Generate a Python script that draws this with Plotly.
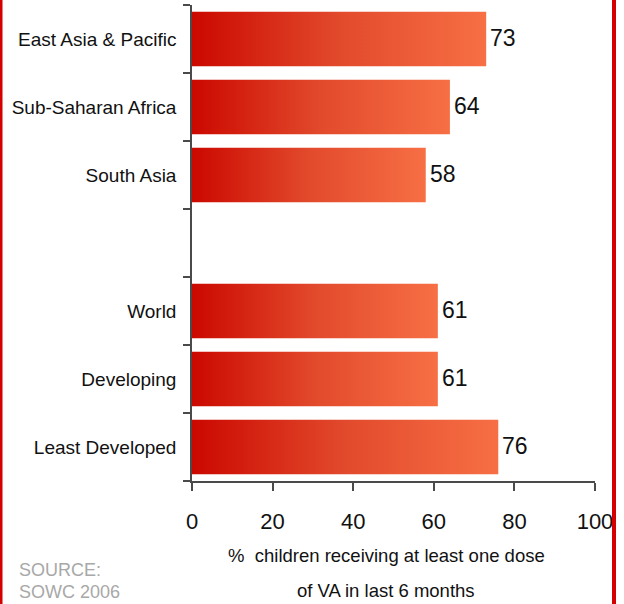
import plotly.graph_objects as go

# Vitamin A supplementation coverage, by region
categories = ["East Asia & Pacific", "Sub-Saharan Africa", "South Asia",
              "World", "Developing", "Least Developed"]
values = [73, 64, 58, 61, 61, 76]
x_ticks = [0, 20, 40, 60, 80, 100]
axis_title_lines = ["%  children receiving at least one dose", "of VA in last 6 months"]
source_lines = ["SOURCE:", "SOWC 2006"]

W, H = 624, 604
M_L, M_R, M_T, M_B = 192, 29, 5, 123
FONT = "Liberation Sans, Arial, sans-serif"
RED_DARK = "#CB0800"
RED_LIGHT = "#F76F44"
AXIS = "#4A4A4A"
HALF = 0.4  # half bar thickness in slot units

# regional rows first, then a blank slot, then the aggregates
positions = [i if i < 3 else i + 1 for i in range(len(categories))]
n_slots = max(positions) + 1

fig = go.Figure()
for cat, v, p in zip(categories, values, positions):
    fig.add_trace(go.Scatter(
        x=[0, v, v, 0, 0],
        y=[p - HALF, p - HALF, p + HALF, p + HALF, p - HALF],
        mode="lines", fill="toself", line=dict(width=0),
        fillgradient=dict(type="horizontal", start=0, stop=v,
                          colorscale=[[0, RED_DARK], [0.5, "#E24A2C"], [1, RED_LIGHT]]),
        hoverinfo="skip", showlegend=False, name=cat,
    ))

# value labels at the bar ends
for v, p in zip(values, positions):
    fig.add_annotation(
        text=str(v), x=v, y=p, xref="x", yref="y",
        xanchor="left", yanchor="middle", xshift=2, yshift=1,
        showarrow=False, font=dict(family=FONT, size=23, color="#111111"),
    )

fig.update_layout(
    width=W, height=H,
    margin=dict(l=M_L, r=M_R, t=M_T, b=M_B),
    paper_bgcolor="white", plot_bgcolor="white",
    xaxis=dict(
        range=[0, 100], tickvals=x_ticks, ticktext=[str(t) for t in x_ticks],
        showgrid=False, zeroline=False, automargin=False,
        showline=True, linecolor=AXIS, linewidth=1.5,
        ticks="outside", ticklen=8, tickwidth=1.5, tickcolor=AXIS,
        ticklabelstandoff=12,
        tickfont=dict(family=FONT, size=22, color="#111111"),
        fixedrange=True,
    ),
    yaxis=dict(
        range=[n_slots - 0.5, -0.5],
        tickvals=positions, ticktext=categories,
        showgrid=False, zeroline=False, automargin=False,
        showline=True, linecolor=AXIS, linewidth=1.5,
        ticks="", ticklabelstandoff=10,
        tickfont=dict(family=FONT, size=19, color="#111111"),
        minor=dict(tickvals=[k - 0.5 for k in range(n_slots + 1)],
                   ticks="outside", ticklen=7, tickwidth=1.5, tickcolor=AXIS),
        fixedrange=True,
    ),
)

plot_w = W - M_L - M_R
plot_h = H - M_T - M_B

# two-line axis title under the x axis
for k, line in enumerate(axis_title_lines):
    fig.add_annotation(
        text=line, xref="paper", yref="paper", x=0.482, y=0,
        xanchor="center", yanchor="middle", yshift=-74 - 35 * k,
        showarrow=False, font=dict(family=FONT, size=18.5, color="#111111"),
    )

# source note, bottom left
for k, line in enumerate(source_lines):
    fig.add_annotation(
        text=line, xref="paper", yref="paper", x=(17 - M_L) / plot_w, y=0,
        xanchor="left", yanchor="middle", yshift=-(570 - (H - M_B)) - 22 * k,
        showarrow=False, font=dict(family=FONT, size=18, color="#A8A8A8"),
    )

# red frame rules at the left and right edges of the slide
for px, w in [(1, 3), (614, 4)]:
    xp = (px - M_L) / plot_w
    fig.add_shape(type="line", xref="paper", yref="paper",
                  x0=xp, x1=xp, y0=-(M_B + 5) / plot_h, y1=1 + (M_T + 5) / plot_h,
                  line=dict(color="#D40000", width=w))

fig.write_html("out.html")
